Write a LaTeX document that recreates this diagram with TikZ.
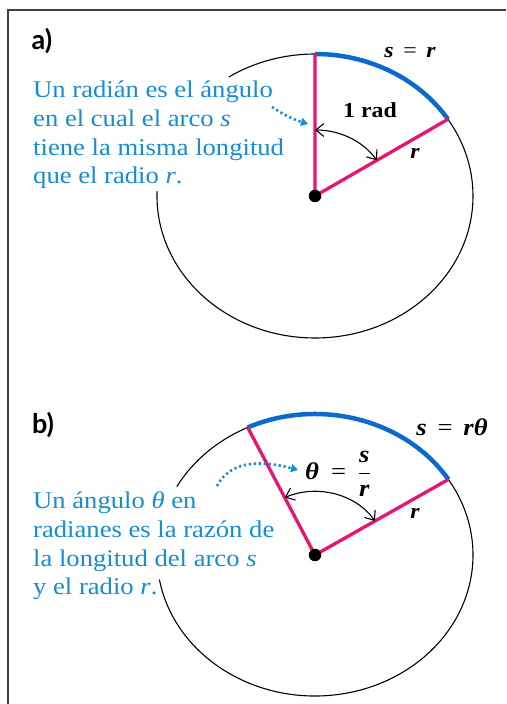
\documentclass[tikz,border=0pt]{standalone}
\usepackage{fontspec}
\setmainfont{Liberation Serif}[FakeStretch=1.11]
\newfontfamily\labelfont{Lato}
\usetikzlibrary{arrows.meta,calc}
\definecolor{arcblue}{RGB}{12,106,204}
\definecolor{txtblue}{RGB}{22,140,210}
\definecolor{radpink}{RGB}{232,20,112}
\newcommand{\eqsp}{\hspace{0.45em}{\mdseries\upshape =}\hspace{0.45em}}
\tikzset{
  circ/.style={line width=1.1pt,black},
  bluearc/.style={line width=4.5pt,arcblue},
  radius line/.style={line width=3.3pt,radpink},
  anglearrow/.style={line width=1.1pt,{Straight Barb[length=8pt,width=13pt]}-{Straight Barb[length=8pt,width=13pt]}},
  hint/.style={line width=2.6pt,txtblue,dash pattern=on 2.2pt off 2.8pt,-{Triangle[length=7pt,width=8pt]}},
  explain/.style={txtblue,align=left,inner sep=0pt,anchor=north west,font=\fontsize{24}{28.6}\selectfont},
  lbl/.style={inner sep=0pt,font=\fontsize{21.5}{26}\selectfont\bfseries},
  biglbl/.style={inner sep=0pt,font=\fontsize{24}{28}\selectfont\bfseries},
  part/.style={inner sep=0pt,font=\labelfont\fontsize{27}{30}\selectfont\bfseries},
  dot/.style={fill=black,circle,inner sep=0pt,minimum size=12.5pt}
}
\begin{document}
\begin{tikzpicture}[x=1pt,y=1pt]
\useasboundingbox (0,0) rectangle (506,704);
% frame
\coordinate (fbl) at (8,0);
\coordinate (ftl) at (8,694);
\coordinate (ftr) at (506,694);
\draw[line width=1.4pt,black!75] (fbl) -- (ftl) -- (ftr);

% ---------------- part a ----------------
\coordinate (Oa) at (315,508);
\coordinate (Aa) at ($(Oa)+(90:158 and 142)$);
\coordinate (Ba) at ($(Oa)+(32.7:158 and 142)$);
\coordinate (Ga) at ($(Oa)+(123:158 and 142)$);
\coordinate (Ha) at ($(Oa)+(178:158 and 142)$);
\draw[circ] (Aa) arc[start angle=90,end angle=123,x radius=158,y radius=142];
\draw[circ] (Ha) arc[start angle=178,end angle=392.7,x radius=158,y radius=142];
\draw[bluearc] (Ba) arc[start angle=32.7,end angle=90,x radius=158,y radius=142];
\draw[radius line] (Aa) -- (Oa) -- (Ba);
\node[dot] (da) at (Oa) {};
\coordinate (aa1) at ($(Oa)+(90:73.5 and 66)$);
\draw[anglearrow] (aa1) arc[start angle=90,end angle=32.7,x radius=73.5,y radius=66];
\node[part] (pa) at (42,663) {a)};
\node[lbl] (sa) at (410,651) {\itshape s\eqsp\itshape r};
\node[lbl] (rada) at (370,594) {1 rad};
\node[lbl] (ra) at (415,551) {\itshape r};
\node[explain] (ta) at (33,623) {Un radián es el ángulo\\en el cual el arco \textit{s}\\tiene la misma longitud\\que el radio \textit{r}.};
\coordinate (ha1) at (272,597);
\coordinate (ha2) at (308,580);
\draw[hint] (ha1) to[bend right=8] (ha2);

% ---------------- part b ----------------
\coordinate (Ob) at (315,149);
\coordinate (Ab) at ($(Ob)+(115.2:158 and 141)$);
\coordinate (Bb) at ($(Ob)+(32.4:158 and 141)$);
\coordinate (Gb) at ($(Ob)+(151:158 and 141)$);
\coordinate (Hb) at ($(Ob)+(190:158 and 141)$);
\draw[circ] (Ab) arc[start angle=115.2,end angle=151,x radius=158,y radius=141];
\draw[circ] (Hb) arc[start angle=190,end angle=392.4,x radius=158,y radius=141];
\draw[bluearc] (Bb) arc[start angle=32.4,end angle=115.2,x radius=158,y radius=141];
\draw[radius line] (Ab) -- (Ob) -- (Bb);
\node[dot] (db) at (Ob) {};
\coordinate (ab1) at ($(Ob)+(115.2:71 and 63.5)$);
\draw[anglearrow] (ab1) arc[start angle=115.2,end angle=32.4,x radius=71,y radius=63.5];
\node[part] (pb) at (43,279) {b)};
\node[biglbl] (sb) at (452,277) {\itshape s\eqsp\itshape rθ};
\node[biglbl] (thb) at (338,230) {\itshape θ\hspace{0.5em}{\mdseries\upshape =}\hspace{0.5em}$\displaystyle\frac{\mbox{\itshape s}}{\mbox{\itshape r}}$};
\node[lbl] (rb) at (415,191) {\itshape r};
\node[explain] (tb) at (33,212) {Un ángulo \textit{θ} en\\radianes es la razón de\\la longitud del arco \textit{s}\\y el radio \textit{r}.};
\coordinate (hb1) at (217,218);
\coordinate (hb2) at (298,234);
\draw[hint] (hb1) to[out=62,in=165] (hb2);
\end{tikzpicture}
\end{document}
